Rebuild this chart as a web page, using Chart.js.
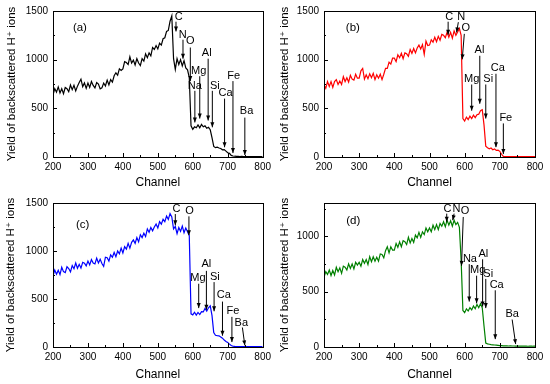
<!DOCTYPE html>
<html>
<head>
<meta charset="utf-8">
<title>RBS spectra</title>
<script src="https://cdn.jsdelivr.net/npm/chart.js@4/dist/chart.umd.min.js"></script>
<style>
  body { margin: 0; background: #fff; }
  #wrap { position: relative; width: 550px; height: 384px; }
  canvas { position: absolute; }
</style>
</head>
<body>
<div id="wrap">
  <canvas id="pa" width="275" height="192" style="left:0;top:0"></canvas>
  <canvas id="pb" width="275" height="192" style="left:275px;top:0"></canvas>
  <canvas id="pc" width="275" height="192" style="left:0;top:192px"></canvas>
  <canvas id="pd" width="275" height="192" style="left:275px;top:192px"></canvas>
</div>
<script>
(function () {
  "use strict";

  // channel axis, every 5th channel
  const CHANNELS = [
    200, 205, 210, 215, 220, 225, 230, 235, 240, 245, 250, 255, 260, 265, 270, 275, 280, 285, 290, 295,
    300, 305, 310, 315, 320, 325, 330, 335, 340, 345, 350, 355, 360, 365, 370, 375, 380, 385, 390, 395,
    400, 405, 410, 415, 420, 425, 430, 435, 440, 445, 450, 455, 460, 465, 470, 475, 480, 485, 490, 495,
    500, 505, 510, 515, 520, 525, 530, 535, 540, 545, 550, 555, 560, 565, 570, 575, 580, 585, 590, 595,
    600, 605, 610, 615, 620, 625, 630, 635, 640, 645, 650, 655, 660, 665, 670, 675, 680, 685, 690, 695,
    700, 705, 710, 715, 720, 725, 730, 735, 740, 745, 750, 755, 760, 765, 770, 775, 780, 785, 790, 795,
    800,
  ];

  const YIELD_A = [
    635, 703, 667, 720, 659, 702, 650, 714, 702, 671, 739, 692, 736, 679, 728, 766, 800, 723, 761, 705,
    760, 715, 775, 735, 710, 765, 750, 700, 710, 760, 730, 790, 740, 795, 770, 835, 865, 840, 905, 890,
    905, 980, 970, 950, 1030, 965, 995, 945, 1010, 965, 940, 1010, 985, 1060, 1020, 1070, 1040, 1125, 1105, 1145,
    1110, 1170, 1150, 1215, 1225, 1290, 1300, 1395, 1450, 1010, 900, 1010, 950, 1000, 935, 990, 915, 895, 815, 320,
    285, 310, 300, 330, 300, 335, 310, 320, 295, 305, 280, 200, 108, 96, 102, 92, 88, 74, 76, 60,
    44, 38, 16, 10, 8, 7, 6, 5, 6, 5, 4, 5, 4, 4, 5, 4, 3, 4, 3, 4,
    3,
  ];
  const YIELD_B = [
    740, 705, 775, 725, 775, 715, 775, 795, 745, 780, 745, 825, 775, 815, 770, 840, 800, 790, 850, 810,
    810, 885, 910, 800, 845, 805, 855, 815, 860, 795, 845, 810, 850, 795, 850, 910, 910, 975, 955, 1015,
    1015, 980, 1050, 1020, 1065, 1010, 1070, 1060, 1035, 1105, 1065, 1115, 1070, 1120, 1150, 1110, 1155, 1055, 1190, 1145,
    1150, 1205, 1180, 1230, 1185, 1240, 1200, 1260, 1250, 1225, 1280, 1230, 1280, 1220, 1295, 1250, 1285, 1320, 1250, 395,
    370, 410, 385, 420, 395, 430, 405, 435, 440, 475, 485, 330, 110, 95, 85, 92, 75, 82, 68, 70,
    58, 28, 6, 5, 4, 5, 4, 4, 3, 4, 3, 4, 3, 3, 4, 3, 3, 4, 3, 3,
    3,
  ];
  const YIELD_C = [
    740, 801, 757, 798, 754, 830, 785, 775, 836, 817, 783, 849, 815, 875, 820, 861, 822, 883, 874, 845,
    895, 855, 910, 875, 865, 925, 875, 915, 870, 840, 935, 930, 895, 960, 935, 985, 940, 1000, 970, 1030,
    980, 1045, 1020, 1080, 1030, 1090, 1115, 1080, 1140, 1095, 1170, 1140, 1185, 1150, 1230, 1195, 1245, 1210, 1250, 1280,
    1240, 1305, 1280, 1330, 1305, 1365, 1330, 1390, 1355, 1230, 1255, 1180, 1245, 1205, 1260, 1190, 1240, 1200, 1160, 345,
    335, 362, 332, 360, 338, 368, 365, 402, 375, 408, 428, 330, 150, 122, 118, 116, 104, 92, 72, 58,
    48, 30, 15, 8, 6, 5, 5, 4, 5, 4, 4, 5, 4, 4, 3, 4, 4, 3, 4, 3,
    3,
  ];
  const YIELD_D = [
    630, 680, 655, 695, 645, 690, 650, 720, 680, 715, 665, 730, 720, 695, 750, 710, 750, 705, 765, 740,
    765, 730, 790, 755, 790, 745, 815, 770, 815, 775, 810, 775, 840, 835, 805, 870, 905, 850, 905, 875,
    875, 935, 900, 950, 905, 960, 950, 925, 990, 940, 980, 945, 1010, 985, 1035, 990, 1040, 1015, 1075, 1040,
    1075, 1040, 1100, 1060, 1105, 1060, 1115, 1090, 1130, 1085, 1145, 1100, 1140, 1090, 1145, 1105, 1125, 1080, 780, 330,
    310, 345, 325, 355, 335, 370, 345, 385, 355, 390, 355, 190, 35, 28, 25, 22, 20, 18, 17, 15,
    13, 12, 11, 10, 10, 9, 10, 9, 9, 8, 9, 8, 8, 9, 8, 8, 7, 8, 8, 7,
    7,
  ];

  // element markers: [label, text channel, text yield, arrow from (ch, yield), arrow tip (ch, yield)]
  const NOTES_A = [
    ["C", 560, 1439, 552, 1390, 552, 1290],
    ["N", 571, 1256, 572, 1205, 572, 1010],
    ["O", 593, 1195, 593, 1125, 593, 780],
    ["Al", 640, 1064, 644, 1010, 644, 375],
    ["Mg", 617, 881, 620, 830, 620, 395],
    ["Na", 606, 730, 606, 680, 606, 355],
    ["Si", 663, 730, 656, 680, 656, 305],
    ["Ca", 694, 659, 691, 600, 691, 100],
    ["Fe", 717, 831, 715, 780, 715, 40],
    ["Ba", 754, 476, 749, 405, 749, 20],
  ];
  const NOTES_B = [
    ["C", 556, 1439, 553, 1390, 553, 1256],
    ["N", 590, 1439, 582, 1385, 577, 1280],
    ["O", 603, 1327, 599, 1265, 593, 1003],
    ["Al", 642, 1104, 643, 1040, 643, 547],
    ["Mg", 620, 800, 620, 745, 620, 476],
    ["Si", 667, 800, 660, 745, 660, 395],
    ["Ca", 694, 912, 689, 855, 689, 101],
    ["Fe", 717, 405, 710, 345, 710, 30],
  ];
  const NOTES_C = [
    ["C", 553, 1436, 550, 1385, 550, 1267],
    ["O", 591, 1418, 589, 1361, 589, 1165],
    ["Al", 639, 861, 639, 793, 639, 388],
    ["Mg", 615, 719, 617, 659, 617, 405],
    ["Si", 663, 726, 661, 676, 661, 372],
    ["Ca", 689, 540, 685, 473, 685, 118],
    ["Fe", 715, 372, 712, 314, 712, 51],
    ["Ba", 739, 253, 742, 203, 749, 17],
  ];
  const NOTES_D = [
    ["C", 551, 1248, 549, 1204, 549, 1130],
    ["N", 577, 1248, 570, 1204, 566, 1145],
    ["O", 601, 1224, 596, 1174, 591, 733],
    ["Na", 615, 792, 613, 748, 613, 410],
    ["Mg", 637, 695, 634, 644, 634, 395],
    ["Al", 653, 836, 651, 792, 651, 365],
    ["Si", 667, 660, 660, 615, 660, 351],
    ["Ca", 691, 557, 687, 512, 687, 71],
    ["Ba", 735, 301, 735, 248, 745, 26],
  ];

  const Y_MAJOR = [0, 500, 1000, 1500];
  const X_MINOR = [250, 350, 450, 550, 650, 750];
  const Y_MINOR = [250, 750, 1250];

  const FONT = "'Liberation Sans', Arial, 'DejaVu Sans', sans-serif";

  // frame, inward ticks (Origin style) and the element arrows
  const overlay = {
    id: "overlay",
    afterDatasetsDraw(chart, args, opts) {
      const { ctx, chartArea: a, scales } = chart;
      const sx = scales.x, sy = scales.y;
      ctx.save();
      ctx.strokeStyle = "#000";
      ctx.lineWidth = 1;
      ctx.strokeRect(Math.round(a.left) + 0.5, Math.round(a.top) + 0.5,
        Math.round(a.right - a.left), Math.round(a.bottom - a.top));

      ctx.beginPath();
      const tick = (v, len, horiz) => {
        if (horiz) {
          const p = Math.round(sx.getPixelForValue(v)) + 0.5;
          ctx.moveTo(p, a.bottom); ctx.lineTo(p, a.bottom - len);
        } else {
          const p = Math.round(sy.getPixelForValue(v)) + 0.5;
          ctx.moveTo(a.left, p); ctx.lineTo(a.left + len, p);
        }
      };
      sx.ticks.forEach((t) => tick(t.value, 4, true));
      X_MINOR.forEach((v) => tick(v, 2, true));
      sy.ticks.forEach((t) => tick(t.value, 4, false));
      Y_MINOR.filter((v) => v < sy.max).forEach((v) => tick(v, 2, false));
      ctx.stroke();

      ctx.fillStyle = "#000";
      ctx.font = "11px " + FONT;
      ctx.textAlign = "center";
      ctx.textBaseline = "middle";
      for (const [lab, tx, ty, fx, fy, ex, ey] of opts.notes) {
        const x0 = sx.getPixelForValue(fx), y0 = sy.getPixelForValue(fy);
        const x1 = sx.getPixelForValue(ex), y1 = sy.getPixelForValue(ey);
        ctx.beginPath();
        ctx.moveTo(x0, y0);
        ctx.lineTo(x1, y1);
        ctx.stroke();
        const ang = Math.atan2(y1 - y0, x1 - x0);
        ctx.beginPath();
        ctx.moveTo(x1, y1);
        ctx.lineTo(x1 - 5 * Math.cos(ang) + 2 * Math.sin(ang), y1 - 5 * Math.sin(ang) - 2 * Math.cos(ang));
        ctx.lineTo(x1 - 5 * Math.cos(ang) - 2 * Math.sin(ang), y1 - 5 * Math.sin(ang) + 2 * Math.cos(ang));
        ctx.closePath();
        ctx.fill();
        ctx.fillText(lab, sx.getPixelForValue(tx), sy.getPixelForValue(ty));
      }
      const [tag, tagX, tagY] = opts.tag;
      ctx.font = "11.5px " + FONT;
      ctx.fillText(tag, sx.getPixelForValue(tagX), sy.getPixelForValue(tagY));
      ctx.restore();
    },
  };

  function makePanel(id, color, yields, notes, tag, yMax, L) {
    const pts = CHANNELS.map((c, i) => ({ x: c, y: yields[i] }));
    return new Chart(document.getElementById(id), {
      type: "line",
      data: {
        datasets: [{
          data: pts,
          borderColor: color,
          borderWidth: 1.2,
          pointRadius: 0,
          tension: 0,
          fill: false,
        }],
      },
      options: {
        responsive: false,
        animation: false,
        events: [],
        layout: { padding: { top: L.top, right: L.right, left: 0, bottom: 0 } },
        plugins: {
          legend: { display: false },
          tooltip: { enabled: false },
          overlay: { notes, tag },
        },
        scales: {
          x: {
            type: "linear",
            min: 200,
            max: 800,
            grid: { display: false, drawTicks: false },
            border: { display: false },
            ticks: {
              stepSize: 100, padding: 4, maxRotation: 0, autoSkip: false,
              color: "#000", font: { family: FONT, size: 10 },
              callback: (v) => String(v),
            },
            title: {
              display: true, text: "Channel", color: "#000",
              font: { family: FONT, size: 12, lineHeight: 1 },
              padding: { top: 0, bottom: L.xTitle },
            },
            afterFit(s) { s.height = L.xh; },
          },
          y: {
            min: 0,
            max: yMax,
            grid: { display: false, drawTicks: false },
            border: { display: false },
            ticks: {
              padding: 5,
              color: "#000", font: { family: FONT, size: 10 },
              callback: (v) => String(v),
            },
            afterBuildTicks(s) {
              s.ticks = Y_MAJOR.filter((v) => v <= yMax).map((v) => ({ value: v }));
            },
            title: {
              display: true, text: "Yield of backscattered H\u207A ions", color: "#000",
              font: { family: FONT, size: 11.5, lineHeight: 1 },
              padding: { top: L.yTitle, bottom: 0 },
            },
            afterFit(s) { s.width = L.yw; },
          },
        },
      },
      plugins: [overlay],
    });
  }

  makePanel("pa", "#000000", YIELD_A, NOTES_A, ["(a)", 277, 1327], 1500,
    { top: 9, right: 12, yw: 53, xh: 35, xTitle: 3, yTitle: 6 });
  makePanel("pb", "#ff0000", YIELD_B, NOTES_B, ["(b)", 282, 1327], 1500,
    { top: 9, right: 15, yw: 49, xh: 35, xTitle: 3, yTitle: 4 });
  makePanel("pc", "#0000ff", YIELD_C, NOTES_C, ["(c)", 285, 1274], 1500,
    { top: 7, right: 12, yw: 53, xh: 37, xTitle: 3.5, yTitle: 5.5 });
  makePanel("pd", "#008000", YIELD_D, NOTES_D, ["(d)", 283, 1136], 1300,
    { top: 7, right: 15, yw: 49, xh: 37, xTitle: 3.5, yTitle: 4 });
})();
</script>
</body>
</html>
